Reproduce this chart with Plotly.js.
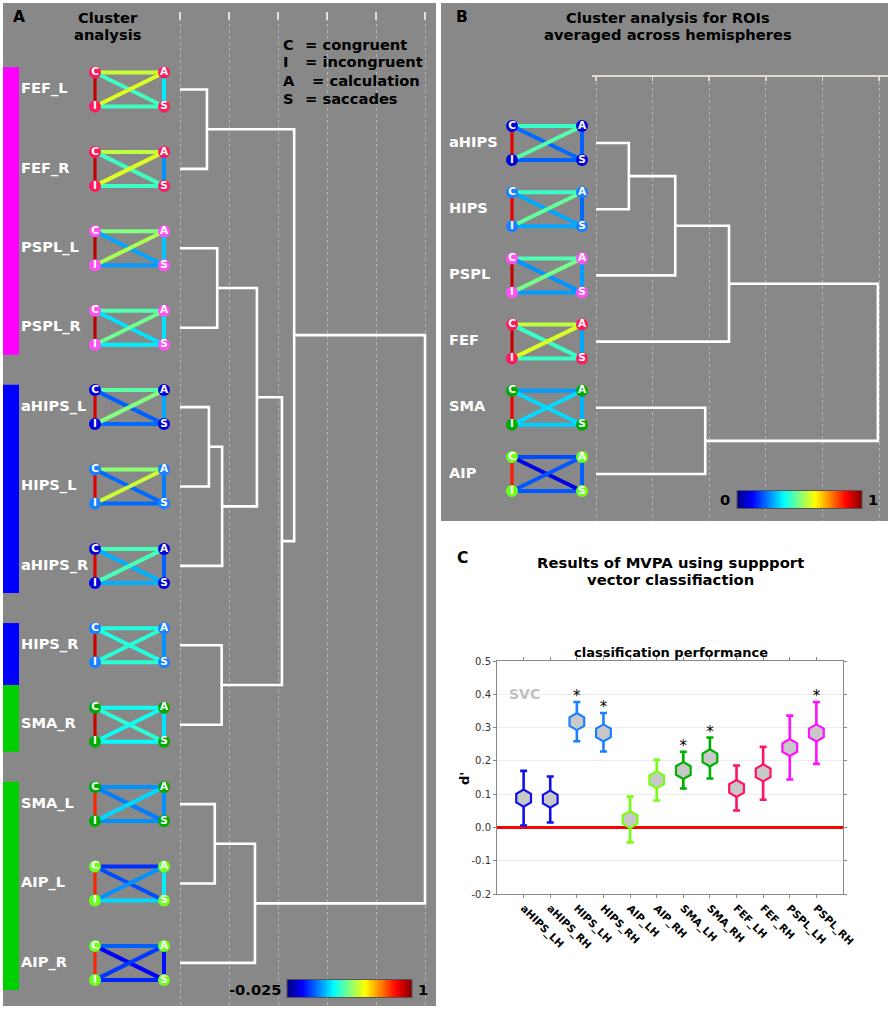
<!DOCTYPE html>
<html><head><meta charset="utf-8">
<script src="https://cdn.plot.ly/plotly-3.0.1.min.js"></script>
<style>html,body{margin:0;padding:0;background:#fff}#chart{width:892px;height:1009px}</style>
</head><body><div id="chart"></div>
<script>
// ================= DATA =================
// Panel A: cluster analysis per hemisphere ROI
const leavesA = ['FEF_L','FEF_R','PSPL_L','PSPL_R','aHIPS_L','HIPS_L','aHIPS_R','HIPS_R','SMA_R','SMA_L','AIP_L','AIP_R'];
// linkage: [childA, childB, height]; new cluster ids start at leavesA.length
const linkA = [[0,1,0.55],[2,3,0.76],[4,5,0.59],[14,6,0.86],[13,15,1.57],[7,8,0.85],[16,17,2.08],[12,18,2.33],[9,10,0.71],[20,11,1.53],[19,21,5.0]];
// edge strengths (colour scale values) for each ROI glyph
const edgeCA_A = [0.56,0.55,0.49,0.44,0.45,0.50,0.43,0.39,0.37,0.25,0.15,0.20];
const edgeIS_A = [0.42,0.42,0.26,0.34,0.21,0.21,0.28,0.40,0.36,0.25,0.32,0.14];
const edgeCI_A = [0.93,0.93,0.94,0.94,0.91,0.90,0.90,0.92,0.92,0.84,0.84,0.84];
const edgeAS_A = [0.34,0.25,0.30,0.33,0.27,0.23,0.20,0.25,0.33,0.25,0.34,0.12];
const edgeCS_A = [0.42,0.42,0.27,0.33,0.20,0.21,0.28,0.39,0.40,0.23,0.18,0.10];
const edgeIA_A = [0.58,0.58,0.53,0.47,0.49,0.56,0.43,0.40,0.37,0.32,0.25,0.16];
// side bars: leaf groups and colour key per leaf
const barGroupsA = [[0,3],[4,6],[7,8],[9,11]];
const leafBarA = ['m','m','m','m','b','b','b','b','g','g','g','g'];
const cRangeA = [-0.025, 1];

// Panel B: ROIs averaged across hemispheres
const leavesB = ['aHIPS','HIPS','PSPL','FEF','SMA','AIP'];
const linkB = [[0,1,0.58],[6,2,1.40],[7,3,2.35],[4,5,1.93],[8,9,4.98]];
const edgeCA_B = [0.43,0.43,0.45,0.56,0.28,0.20];
const edgeIS_B = [0.22,0.29,0.28,0.43,0.33,0.21];
const edgeCI_B = [0.90,0.90,0.93,0.93,0.89,0.85];
const edgeAS_B = [0.22,0.23,0.28,0.29,0.30,0.22];
const edgeCS_B = [0.23,0.29,0.27,0.43,0.34,0.10];
const edgeIA_B = [0.46,0.47,0.49,0.59,0.34,0.21];
const cRangeB = [0, 1];

// Panel C: MVPA classification performance (d')
const mvpaLabels = ['aHIPS_LH','aHIPS_RH','HIPS_LH','HIPS_RH','AIP_LH','AIP_RH','SMA_LH','SMA_RH','FEF_LH','FEF_RH','PSPL_LH','PSPL_RH'];
const mvpaMean  = [0.088,0.085,0.318,0.284,0.024,0.143,0.171,0.209,0.117,0.164,0.240,0.284];
const mvpaUpper = [0.170,0.153,0.377,0.344,0.093,0.203,0.227,0.270,0.186,0.242,0.336,0.377];
const mvpaLower = [0.006,0.015,0.259,0.228,-0.045,0.081,0.117,0.147,0.051,0.083,0.144,0.191];
const mvpaSig   = [0,0,1,1,0,0,1,1,0,0,0,1];
const yTicksC = [-0.2,-0.1,0,0.1,0.2,0.3,0.4,0.5];

// ================= STYLE =================
const W = 892, H = 1009;
const FONT = 'DejaVu Sans, Liberation Sans, sans-serif';
const fx = p => p / W, fy = p => 1 - p / H;
const JET = [[0,'#000080'],[0.125,'#0000ff'],[0.375,'#00ffff'],[0.625,'#ffff00'],[0.875,'#ff0000'],[1,'#800000']];
const nodeColor = {FEF:'#ff1a5e', PSPL:'#ff50f5', aHIPS:'#0000dd', HIPS:'#1a80ff', SMA:'#00aa00', AIP:'#6cff1a'};
const mvpaColor = {aHIPS:'#1010e8', HIPS:'#1a80ff', AIP:'#77ff11', SMA:'#00b000', FEF:'#ff1460', PSPL:'#ff10ff'};
const barColor = {m:'#ff00ff', b:'#0000ff', g:'#00d000'};
const GREY = '#888888';

const GA = {left:3, right:436, top:12, bottom:1006, zeroPx:180, unitPx:49, leaf0Px:89.5, leafStepPx:79.4,
            nodeL:95, nodeR:164, halfH:17, labelPx:21};
const GB = {left:441, right:888, top:76, bottom:521, zeroPx:596, unitPx:56.6, leaf0Px:143, leafStepPx:66.2,
            nodeL:512, nodeR:582, halfH:17, labelPx:449};

function hex2rgb(h){return [parseInt(h.slice(1,3),16),parseInt(h.slice(3,5),16),parseInt(h.slice(5,7),16)];}
function scaleColor(v, cmin, cmax){
  let t = (v - cmin) / (cmax - cmin); t = Math.max(0, Math.min(1, t));
  for (let i = 1; i < JET.length; i++) {
    if (t <= JET[i][0]) {
      const a = JET[i-1], b = JET[i], f = (t - a[0]) / (b[0] - a[0]);
      const ca = hex2rgb(a[1]), cb = hex2rgb(b[1]);
      return 'rgb(' + ca.map((c,k)=>Math.round(c + (cb[k]-c)*f)).join(',') + ')';
    }
  }
  return JET[JET.length-1][1];
}
const regionOf = name => name.split('_')[0];

function axisRange(G){
  return {
    x: [(G.left - G.zeroPx)/G.unitPx, (G.right - G.zeroPx)/G.unitPx],
    y: [(G.bottom - G.leaf0Px)/G.leafStepPx, (G.top - G.leaf0Px)/G.leafStepPx]
  };
}

function dendroTrace(n, link, xa, ya){
  const pos = [], ht = [], xs = [], ys = [];
  for (let i = 0; i < n; i++) { pos[i] = i; ht[i] = 0; }
  link.forEach((m, k) => {
    const [a, b, h] = m, id = n + k;
    xs.push(ht[a], h, h, ht[b], null);
    ys.push(pos[a], pos[a], pos[b], pos[b], null);
    pos[id] = (pos[a] + pos[b]) / 2; ht[id] = h;
  });
  return {type:'scatter', mode:'lines', x:xs, y:ys, xaxis:xa, yaxis:ya,
          line:{color:'#ffffff', width:2.6}, hoverinfo:'skip'};
}

function glyphTraces(leaves, edges, G, xa, ya, cr){
  const xL = (G.nodeL - G.zeroPx)/G.unitPx, xR = (G.nodeR - G.zeroPx)/G.unitPx;
  const dy = G.halfH / G.leafStepPx;
  const out = [];
  const node = {C:[xL,-dy], A:[xR,-dy], I:[xL,dy], S:[xR,dy]};
  const order = [['C','A',edges.CA],['I','S',edges.IS],['C','I',edges.CI],['A','S',edges.AS],['C','S',edges.CS],['I','A',edges.IA]];
  leaves.forEach((name, i) => {
    order.forEach(([p, q, arr]) => {
      out.push({type:'scatter', mode:'lines', xaxis:xa, yaxis:ya, hoverinfo:'skip',
        x:[node[p][0], node[q][0]], y:[i + node[p][1], i + node[q][1]],
        line:{color:scaleColor(arr[i], cr[0], cr[1]), width:p==='C'&&q==='I'?3.2:4}});
    });
  });
  const nx = [], ny = [], nc = [], nt = [];
  leaves.forEach((name, i) => {
    ['C','A','I','S'].forEach(k => {
      nx.push(node[k][0]); ny.push(i + node[k][1]); nc.push(nodeColor[regionOf(name)]); nt.push('<b>'+k+'</b>');
    });
  });
  out.push({type:'scatter', mode:'markers+text', xaxis:xa, yaxis:ya, hoverinfo:'skip',
    x:nx, y:ny, text:nt, textposition:'middle center', cliponaxis:false,
    textfont:{family:FONT, size:10.5, color:'#ffffff'},
    marker:{size:12, color:nc, line:{width:0}}});
  // labels
  out.push({type:'scatter', mode:'text', xaxis:xa, yaxis:ya, hoverinfo:'skip', cliponaxis:false,
    x:leaves.map(()=> (G.labelPx - G.zeroPx)/G.unitPx), y:leaves.map((_, i)=>i),
    text:leaves.map(s=>'<b>'+s+'</b>'), textposition:'middle right',
    textfont:{family:FONT, size:14.6, color:'#ffffff'}});
  return out;
}

function colorbarTrace(xa, ya, cr, cxPx, cyPx, lenPx){
  return {type:'scatter', mode:'markers', x:[null], y:[null], xaxis:xa, yaxis:ya, hoverinfo:'skip',
    marker:{color:[cr[0]], cmin:cr[0], cmax:cr[1], colorscale:JET, showscale:true,
      colorbar:{orientation:'h', x:fx(cxPx), xanchor:'center', y:fy(cyPx), yanchor:'middle',
        len:lenPx/W, lenmode:'fraction', thickness:18, thicknessmode:'pixels',
        outlinewidth:1, outlinecolor:'#555555', showticklabels:false, ticks:'', xpad:0, ypad:0, borderwidth:0}}};
}

const traces = [];
const rA = axisRange(GA), rB = axisRange(GB);

traces.push(dendroTrace(leavesA.length, linkA, 'x', 'y'));
traces.push(...glyphTraces(leavesA, {CA:edgeCA_A, IS:edgeIS_A, CI:edgeCI_A, AS:edgeAS_A, CS:edgeCS_A, IA:edgeIA_A}, GA, 'x', 'y', cRangeA));
traces.push(colorbarTrace('x', 'y', cRangeA, 349.5, 989, 125));

traces.push(dendroTrace(leavesB.length, linkB, 'x2', 'y2'));
traces.push(...glyphTraces(leavesB, {CA:edgeCA_B, IS:edgeIS_B, CI:edgeCI_B, AS:edgeAS_B, CS:edgeCS_B, IA:edgeIA_B}, GB, 'x2', 'y2', cRangeB));
traces.push(colorbarTrace('x2', 'y2', cRangeB, 799.5, 500, 125));

// Panel C
const regionsC = [];
mvpaLabels.forEach(l => { const r = regionOf(l); if (!regionsC.includes(r)) regionsC.push(r); });
regionsC.forEach(r => {
  const idx = mvpaLabels.map((l,i)=>regionOf(l)===r?i:-1).filter(i=>i>=0);
  traces.push({type:'scatter', mode:'markers', xaxis:'x3', yaxis:'y3', cliponaxis:false,
    x:idx.map(i=>mvpaLabels[i]), y:idx.map(i=>mvpaMean[i]),
    error_y:{type:'data', symmetric:false, array:idx.map(i=>mvpaUpper[i]-mvpaMean[i]),
      arrayminus:idx.map(i=>mvpaMean[i]-mvpaLower[i]), color:mvpaColor[r], thickness:2.6, width:3.5},
    marker:{symbol:'hexagon', size:17, color:'#c8c8c8', line:{color:mvpaColor[r], width:2.2}}});
});
const sigIdx = mvpaSig.map((s,i)=>s?i:-1).filter(i=>i>=0);
traces.push({type:'scatter', mode:'text', xaxis:'x3', yaxis:'y3', cliponaxis:false,
  x:sigIdx.map(i=>mvpaLabels[i]), y:sigIdx.map(i=>mvpaUpper[i]-0.009),
  text:sigIdx.map(()=>'*'), textposition:'top center', textfont:{family:FONT, size:15, color:'#000'}});

// ================= LAYOUT =================
function ann(text, px, py, size, opts){
  return Object.assign({text:text, xref:'paper', yref:'paper', x:fx(px), y:fy(py), showarrow:false,
    xanchor:'center', yanchor:'middle', font:{family:FONT, size:size, color:'#000'}}, opts||{});
}
const T = 14.7;
const annotations = [
  ann('<b>A</b>', 19, 17, 15.5),
  ann('<b>Cluster</b>', 108, 17, T),
  ann('<b>analysis</b>', 108, 34, T),
  ann('<b>C</b>', 281, 44, T, {xanchor:'left'}), ann('<b>= congruent</b>', 303, 44, T, {xanchor:'left'}),
  ann('<b>I</b>', 281, 62, T, {xanchor:'left'}), ann('<b>= incongruent</b>', 303, 62, T, {xanchor:'left'}),
  ann('<b>A</b>', 281, 80, T, {xanchor:'left'}), ann('<b>= calculation</b>', 310, 80, T, {xanchor:'left'}),
  ann('<b>S</b>', 281, 98, T, {xanchor:'left'}), ann('<b>= saccades</b>', 303, 98, T, {xanchor:'left'}),
  ann('<b>-0.025</b>', 284, 989, T, {xanchor:'right'}),
  ann('<b>1</b>', 416, 989, T, {xanchor:'left'}),
  ann('<b>B</b>', 462, 17, 15.5),
  ann('<b>Cluster analysis for ROIs</b>', 668, 17, T),
  ann('<b>averaged across hemispheres</b>', 668, 34, T),
  ann('<b>0</b>', 732, 500, T, {xanchor:'right'}),
  ann('<b>1</b>', 866, 500, T, {xanchor:'left'}),
  ann('<b>C</b>', 462, 558, 15.5),
  ann('<b>Results of MVPA using suppport</b>', 670, 562, 14.8),
  ann('<b>vector classifiaction</b>', 670, 579, 14.8),
  ann('<b>classification performance</b>', 671, 652, 13),
  ann('<b>SVC</b>', 524, 694, 14, {font:{family:FONT, size:14, color:'#c0c0c0'}}),
  ann("<b>d'</b>", 464, 778, 13, {textangle:-90})
];

const shapes = [
  {type:'rect', xref:'paper', yref:'paper', layer:'below', x0:fx(GA.left), x1:fx(GA.right), y0:fy(1006), y1:fy(3), fillcolor:GREY, line:{width:0}},
  {type:'rect', xref:'paper', yref:'paper', layer:'below', x0:fx(GB.left), x1:fx(GB.right), y0:fy(GB.bottom), y1:fy(3), fillcolor:GREY, line:{width:0}},
  {type:'line', xref:'x2', yref:'y2 domain', x0:(592-GB.zeroPx)/GB.unitPx, x1:rB.x[1], y0:1, y1:1, line:{color:'#e2dccb', width:2}}
];
// side group bars in panel A: one rect per run of equal colour inside each group
const padTop = 0.28, padBot = 0.34;
barGroupsA.forEach(g => {
  let s = g[0];
  for (let i = g[0]; i <= g[1]; i++) {
    if (i === g[1] || leafBarA[i+1] !== leafBarA[i]) {
      const y0 = s === g[0] ? s - padTop : s - 0.5;
      const y1 = i === g[1] ? i + padBot : i + 0.5;
      shapes.push({type:'rect', xref:'paper', yref:'y', x0:fx(3), x1:fx(19), y0:y0, y1:y1, fillcolor:barColor[leafBarA[i]], line:{width:0}});
      s = i + 1;
    }
  }
});

const dendroX = (G, r, dom, tickcolor, ticklen) => ({
  domain:[fx(G.left), fx(G.right)], range:r.x, side:'top', anchor:dom,
  tickvals:[0,1,2,3,4,5], showticklabels:false, ticks:'inside', ticklen:ticklen, tickwidth:1.5, tickcolor:tickcolor,
  showgrid:true, gridcolor:'#b4b4b4', griddash:'dot', gridwidth:1, zeroline:false, showline:false, fixedrange:true});
const dendroY = (G, r) => ({domain:[fy(G.bottom), fy(G.top)], range:r.y, visible:false, showgrid:false, zeroline:false, fixedrange:true});

const layout = {
  width:W, height:H, margin:{l:0, r:0, t:0, b:0}, paper_bgcolor:'#ffffff', plot_bgcolor:'rgba(0,0,0,0)',
  showlegend:false, font:{family:FONT},
  xaxis: dendroX(GA, rA, 'y', '#dedede', 8),
  yaxis: dendroY(GA, rA),
  xaxis2: dendroX(GB, rB, 'y2', '#e2dccb', 5),
  yaxis2: dendroY(GB, rB),
  xaxis3: {domain:[fx(497), fx(843)], anchor:'y3', type:'category', categoryorder:'array', categoryarray:mvpaLabels,
    range:[-1, mvpaLabels.length], tickangle:45, tickfont:{family:FONT, size:10.5, color:'#000', weight:'bold'},
    ticks:'outside', ticklen:3, tickcolor:'#888', showline:true, linecolor:'#888', linewidth:1, mirror:'allticks',
    showgrid:false, zeroline:false, fixedrange:true},
  yaxis3: {domain:[fy(894), fy(661)], anchor:'x3', range:[-0.2, 0.5],
    tickvals:yTicksC, ticktext:yTicksC.map(v=>v.toFixed(1)), tickfont:{family:FONT, size:10, color:'#333'},
    ticks:'outside', ticklen:3, tickcolor:'#888', showline:true, linecolor:'#888', linewidth:1, mirror:'allticks',
    showgrid:true, gridcolor:'#ececec', gridwidth:1, zeroline:true, zerolinecolor:'#ff0000', zerolinewidth:2.6, fixedrange:true},
  annotations: annotations,
  shapes: shapes
};

Plotly.newPlot('chart', traces, layout, {displayModeBar:false, staticPlot:true});
</script>
</body></html>
